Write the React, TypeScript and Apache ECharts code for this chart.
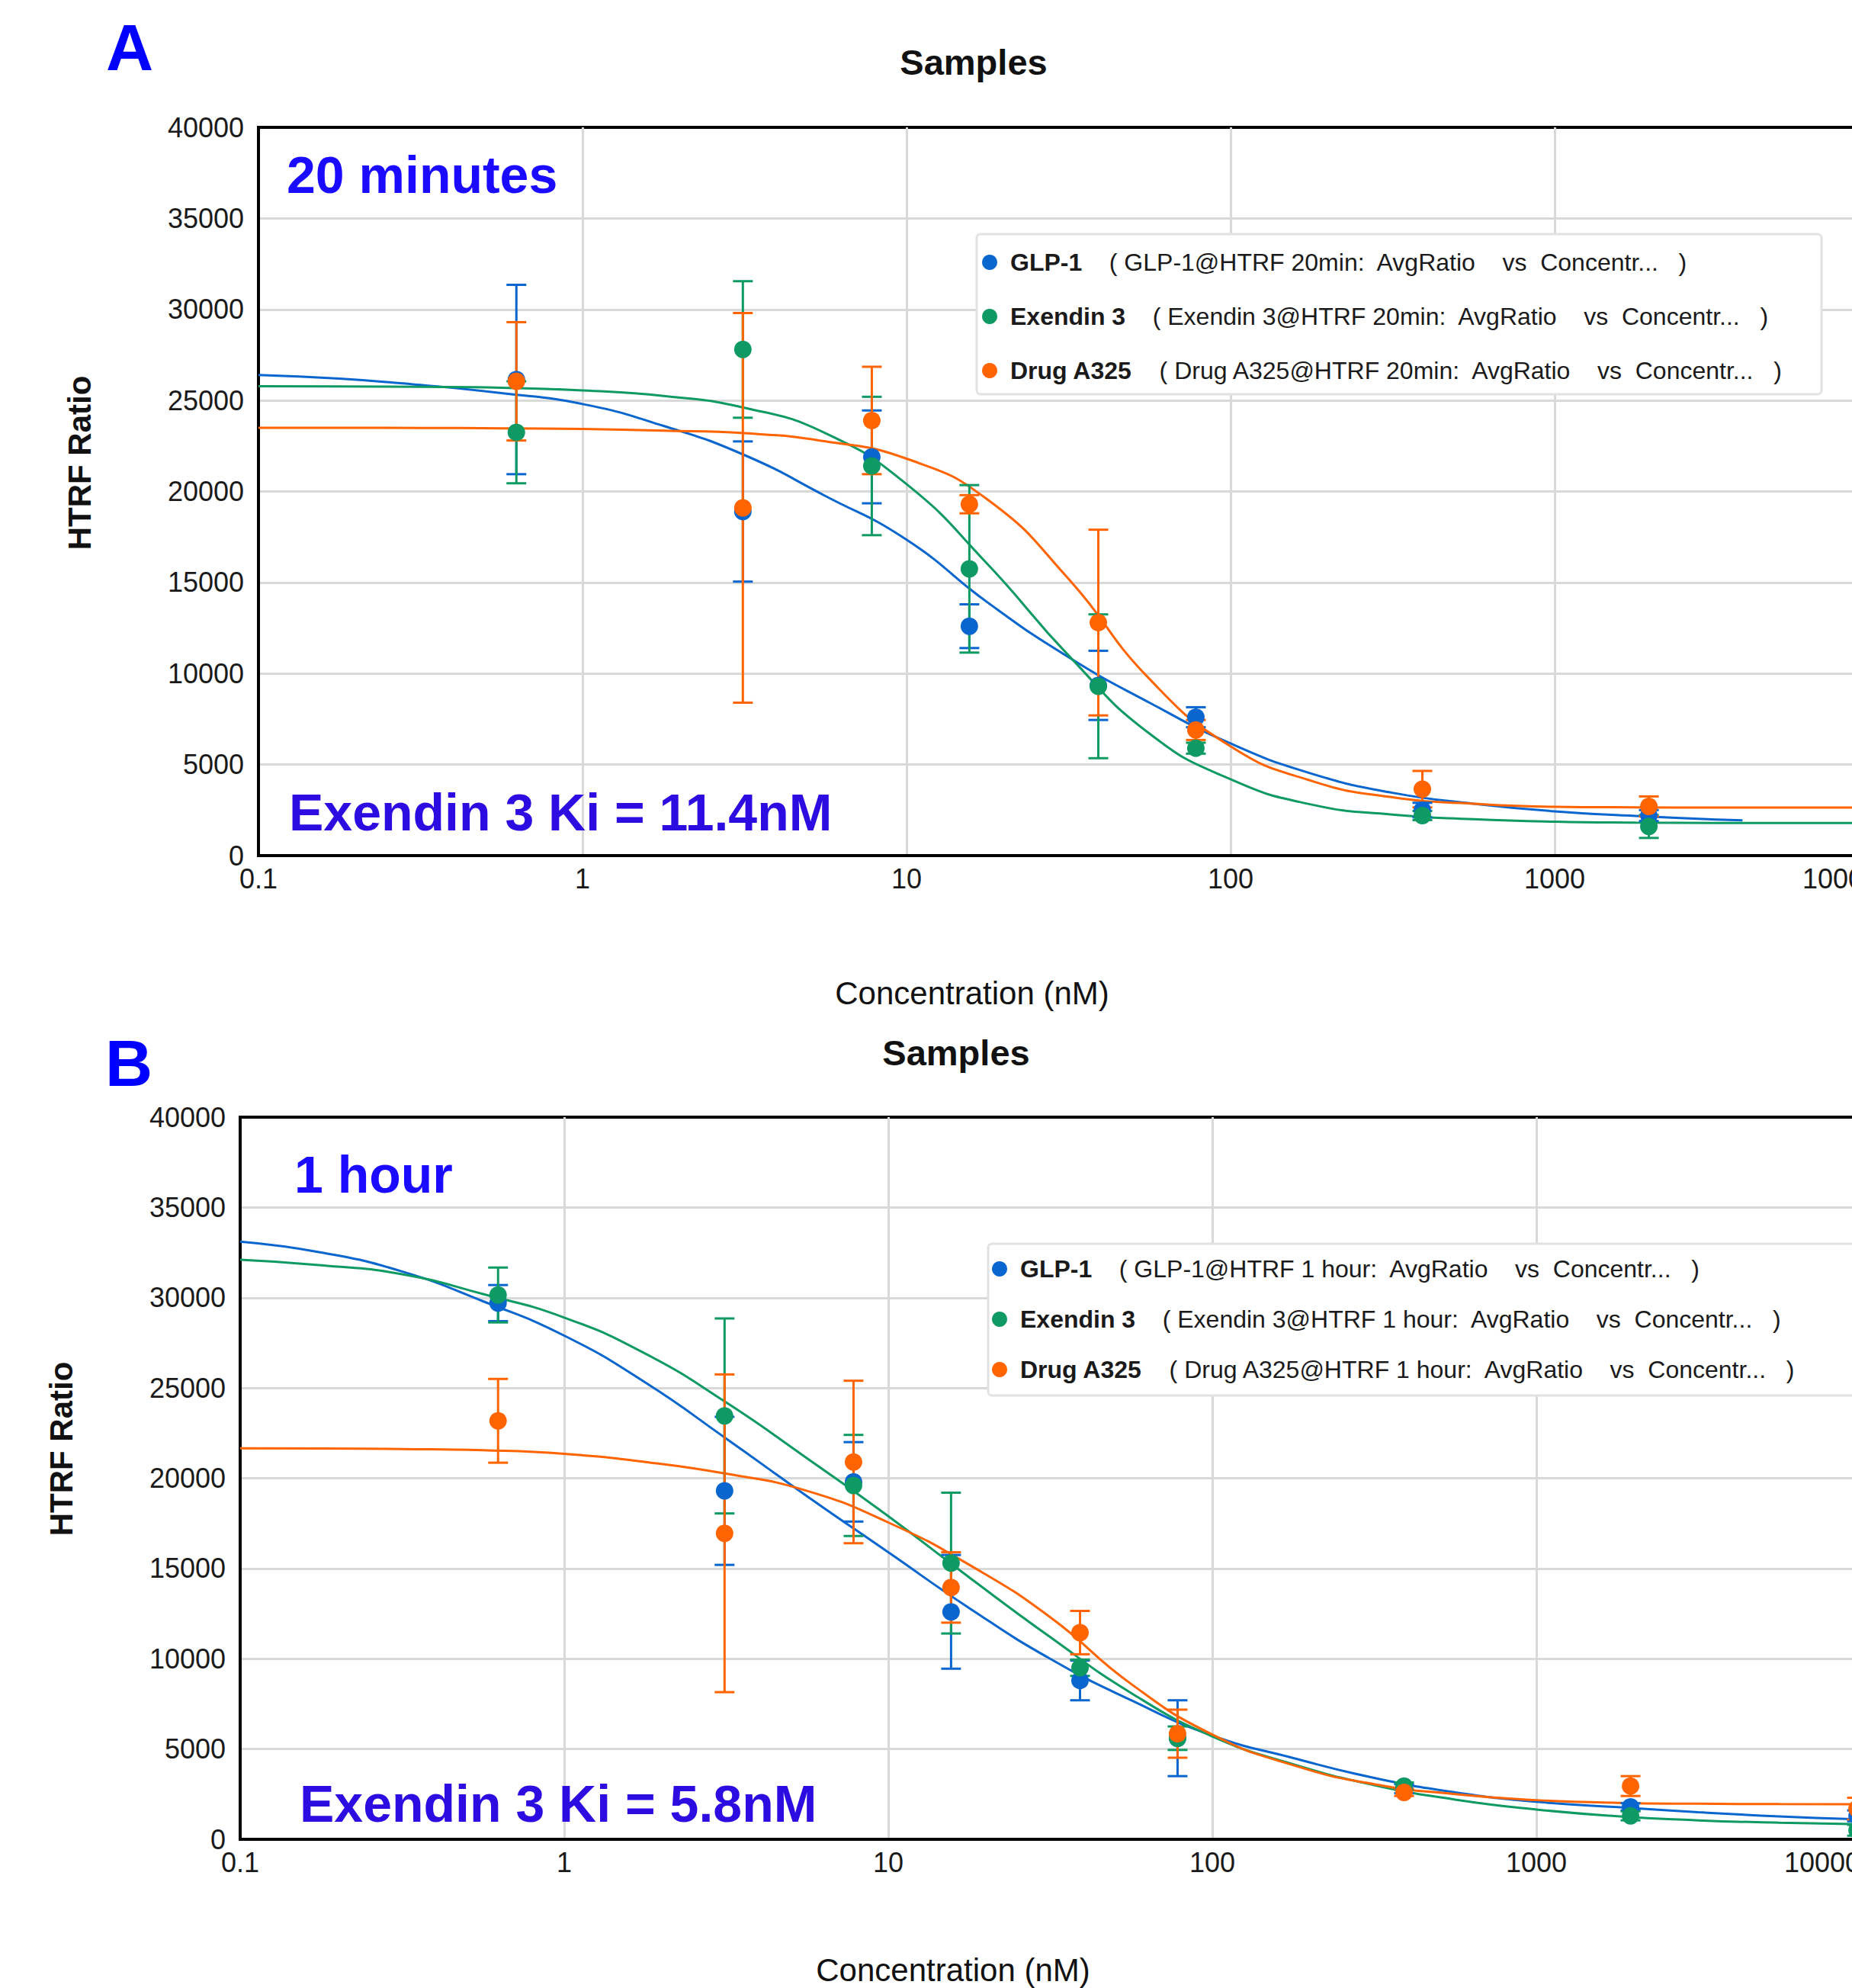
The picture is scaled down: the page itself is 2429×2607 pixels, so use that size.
import React, { useEffect, useRef } from 'react';
import * as echarts from 'echarts';

const FONT = '"Liberation Sans", Arial, Helvetica, sans-serif';
const NAMES = ['GLP-1', 'Exendin 3', 'Drug A325'];
const COLORS = ['#0a66cf', '#0f9a64', '#ff6400'];

// ---------- Panel A (20 minutes) measured points ----------
const CONC_A = [0.625, 3.125, 7.8125, 15.625, 39.0625, 78.125, 390.625, 1953.125];
const GLP1_A = [26150, 18900, 21900, 12600, 9350, 7600, 2500, 2200];
const GLP1_A_ERR = [5200, 3850, 2550, 1200, 1900, 550, 400, 300];
const EX3_A = [23250, 27800, 21400, 15750, 9300, 5900, 2200, 1600];
const EX3_A_ERR = [2800, 3750, 3800, 4600, 3950, 300, 250, 630];
const DRUG_A = [26050, 19100, 23900, 19300, 12800, 6900, 3650, 2700];
const DRUG_A_ERR = [3250, 10700, 2950, 500, 5100, 550, 1000, 550];

// ---------- Panel B (1 hour) measured points ----------
const CONC_B = [0.625, 3.125, 7.8125, 15.625, 39.0625, 78.125, 390.625, 1953.125, 9765.625];
const GLP1_B = [29700, 19300, 19800, 12600, 8800, 5600, 2800, 1800, 1300];
const GLP1_B_ERR = [1000, 4100, 2200, 3150, 1100, 2100, 250, 200, 300];
const EX3_B = [30150, 23450, 19600, 15300, 9500, 5600, 2950, 1300, 500];
const EX3_B_ERR = [1520, 5400, 2800, 3900, 450, 650, 200, 250, 300];
const DRUG_B = [23180, 16950, 20900, 13950, 11450, 5850, 2600, 2950, 1700];
const DRUG_B_ERR = [2320, 8800, 4500, 1950, 1200, 1330, 200, 550, 600];

// ---------- fitted curves at quarter-decade steps ----------
const FIT_X = [0.1, 0.178, 0.316, 0.562, 1, 1.78, 3.16, 5.62, 10, 17.8, 31.6, 56.2, 100, 178, 316, 562, 1000, 1778, 3162, 5623, 10000];
const FIT_X_GLP1_A = [0.1, 0.178, 0.316, 0.562, 1, 1.78, 3.16, 5.62, 10, 17.8, 31.6, 56.2, 100, 178, 316, 562, 1000, 1778, 3162, 3800];
const GLP1_A_FIT = [26400, 26200, 25850, 25400, 24800, 23600, 22000, 19750, 17350, 13900, 10900, 8400, 6160, 4500, 3450, 2850, 2430, 2180, 1980, 1940];
const EX3_A_FIT = [25780, 25770, 25750, 25700, 25550, 25250, 24600, 23200, 20400, 16000, 11000, 6700, 4190, 2800, 2250, 2000, 1860, 1810, 1795, 1790, 1790];
const DRUG_A_FIT = [23500, 23500, 23490, 23470, 23430, 23340, 23200, 22750, 21800, 19550, 15200, 9700, 6000, 4100, 3200, 2850, 2680, 2650, 2640, 2640, 2640];
const GLP1_B_FIT = [33100, 32500, 31450, 29800, 27900, 25300, 22200, 19000, 15900, 12800, 10000, 7700, 5750, 4500, 3400, 2600, 2080, 1780, 1500, 1270, 1100];
const EX3_B_FIT = [32100, 31800, 31300, 30200, 28900, 26900, 24200, 21100, 17900, 14500, 11200, 8100, 5700, 4150, 3000, 2200, 1650, 1280, 1050, 920, 840];
const DRUG_B_FIT = [21660, 21650, 21620, 21550, 21350, 20900, 20250, 19300, 17550, 15200, 12300, 8600, 5800, 4100, 3050, 2500, 2170, 2020, 1970, 1950, 1940];

const Y_MAX = 40000;
const Y_STEP = 5000;

const pairs = (xs: number[], ys: number[]) => xs.map((x, i) => [x, ys[i]]);
const triples = (xs: number[], ys: number[], es: number[]) => xs.map((x, i) => [x, ys[i], es[i]]);

const errRender = (color: string) => (params: any, api: any) => {
  const x = api.value(0);
  const y = api.value(1);
  const e = api.value(2);
  const p1 = api.coord([x, y + e]);
  const p2 = api.coord([x, y - e]);
  const hw = 13;
  const st = { stroke: color, lineWidth: 3 };
  return {
    type: 'group',
    children: [
      { type: 'line', shape: { x1: p1[0], y1: p1[1], x2: p2[0], y2: p2[1] }, style: st },
      { type: 'line', shape: { x1: p1[0] - hw, y1: p1[1], x2: p1[0] + hw, y2: p1[1] }, style: st },
      { type: 'line', shape: { x1: p2[0] - hw, y1: p2[1], x2: p2[0] + hw, y2: p2[1] }, style: st },
    ],
  };
};

function panelSeries(
  gi: number,
  conc: number[],
  means: number[][],
  errs: number[][],
  fitXs: number[][],
  fits: number[][]
) {
  const out: any[] = [];
  NAMES.forEach((n, k) => {
    out.push({
      name: n + ' fit',
      type: 'line',
      xAxisIndex: gi,
      yAxisIndex: gi,
      data: pairs(fitXs[k], fits[k]),
      symbol: 'none',
      smooth: 0.5,
      lineStyle: { color: COLORS[k], width: 3 },
      z: 2,
      silent: true,
    });
  });
  NAMES.forEach((n, k) => {
    out.push({
      name: n + ' err',
      type: 'custom',
      xAxisIndex: gi,
      yAxisIndex: gi,
      data: triples(conc, means[k], errs[k]),
      encode: { x: 0, y: [1] },
      renderItem: errRender(COLORS[k]),
      clip: false,
      z: 3,
      silent: true,
    });
  });
  NAMES.forEach((n, k) => {
    out.push({
      name: n,
      type: 'scatter',
      xAxisIndex: gi,
      yAxisIndex: gi,
      data: pairs(conc, means[k]),
      symbol: 'circle',
      symbolSize: 23,
      itemStyle: { color: COLORS[k], opacity: 1 },
      z: 4,
      silent: true,
    });
  });
  return out;
}

const plainNum = (v: number) => String(Math.round(v * 1000) / 1000);

const xAxisFor = (gi: number) => ({
  type: 'log',
  logBase: 10,
  min: 0.1,
  max: 10000,
  gridIndex: gi,
  axisLine: { show: true, onZero: false, lineStyle: { color: '#000', width: 4 } },
  axisTick: { show: false },
  axisLabel: { fontSize: 36, color: '#1a1a1a', fontFamily: FONT, margin: 12, formatter: plainNum, alignMaxLabel: 'right' },
  splitLine: { show: true, showMinLine: false, showMaxLine: false, lineStyle: { color: '#d9d9d9', width: 3 } },
});

const yAxisFor = (gi: number) => ({
  type: 'value',
  min: 0,
  max: Y_MAX,
  interval: Y_STEP,
  gridIndex: gi,
  axisLine: { show: true, lineStyle: { color: '#000', width: 4 } },
  axisTick: { show: false },
  axisLabel: { fontSize: 36, color: '#1a1a1a', fontFamily: FONT, margin: 19, formatter: plainNum, padding: [12, 0, 0, 0] },
  splitLine: { show: true, showMinLine: false, showMaxLine: false, lineStyle: { color: '#d9d9d9', width: 3 } },
});

const legendFor = (left: number, top: number, gap: number, tag: string) => ({
  data: NAMES,
  orient: 'vertical',
  left,
  top,
  padding: 0,
  itemWidth: 44,
  itemHeight: 20,
  itemGap: gap,
  icon: 'circle',
  selectedMode: false,
  z: 6,
  formatter: (name: string) => `{b|${name}}{r|    ( ${name}@HTRF ${tag}:  AvgRatio    vs  Concentr...   )}`,
  textStyle: {
    rich: {
      b: { fontWeight: 'bold', fontSize: 32, fontFamily: FONT, color: '#1a1a1a', lineHeight: 36 },
      r: { fontSize: 32, fontFamily: FONT, color: '#1a1a1a', lineHeight: 36 },
    },
  },
});

const txt = (text: string, x: number, y: number, size: number, color: string, bold: boolean, align = 'center', rotation = 0) => ({
  type: 'text',
  x,
  y,
  rotation,
  z: 5,
  silent: true,
  style: {
    text,
    fontSize: size,
    fontWeight: bold ? 'bold' : 'normal',
    fontFamily: FONT,
    fill: color,
    align,
    verticalAlign: 'middle',
    textAlign: align,
    textVerticalAlign: 'middle',
  },
});

const option: any = {
  animation: false,
  backgroundColor: '#ffffff',
  grid: [
    { left: 339, top: 167, width: 2125, height: 955, show: true, borderColor: '#000', borderWidth: 4, backgroundColor: 'transparent', outerBoundsMode: 'none', containLabel: false },
    { left: 315, top: 1465, width: 2125, height: 947, show: true, borderColor: '#000', borderWidth: 4, backgroundColor: 'transparent', outerBoundsMode: 'none', containLabel: false },
  ],
  xAxis: [xAxisFor(0), xAxisFor(1)],
  yAxis: [yAxisFor(0), yAxisFor(1)],
  legend: [legendFor(1288, 328, 39, '20min'), legendFor(1301, 1648, 34, '1 hour')],
  graphic: [
    { type: 'rect', z: 3, silent: true, shape: { x: 1281, y: 307, width: 1108, height: 210, r: 5 }, style: { fill: '#fff', stroke: '#e2e2e2', lineWidth: 3 } },
    { type: 'rect', z: 3, silent: true, shape: { x: 1296, y: 1631, width: 1200, height: 199, r: 5 }, style: { fill: '#fff', stroke: '#e2e2e2', lineWidth: 3 } },
    txt('A', 170, 62, 86, '#0000ff', true),
    txt('B', 169, 1394, 86, '#0000ff', true),
    txt('Samples', 1277, 81, 47, '#111', true),
    txt('Samples', 1254, 1380, 47, '#111', true),
    txt('20 minutes', 376, 229, 68, '#1a0aff', true, 'left'),
    txt('1 hour', 386, 1540, 68, '#1a0aff', true, 'left'),
    txt('Exendin 3 Ki = 11.4nM', 379, 1065, 68, '#2c0ce0', true, 'left'),
    txt('Exendin 3 Ki = 5.8nM', 393, 2365, 68, '#2c0ce0', true, 'left'),
    txt('Concentration (nM)', 1275, 1302, 42, '#111', false),
    txt('Concentration (nM)', 1250, 2583, 42, '#111', false),
    txt('HTRF Ratio', 104, 607, 42, '#111', true, 'center', Math.PI / 2),
    txt('HTRF Ratio', 80, 1900, 42, '#111', true, 'center', Math.PI / 2),
  ],
  series: [
    ...panelSeries(
      0,
      CONC_A,
      [GLP1_A, EX3_A, DRUG_A],
      [GLP1_A_ERR, EX3_A_ERR, DRUG_A_ERR],
      [FIT_X_GLP1_A, FIT_X, FIT_X],
      [GLP1_A_FIT, EX3_A_FIT, DRUG_A_FIT]
    ),
    ...panelSeries(
      1,
      CONC_B,
      [GLP1_B, EX3_B, DRUG_B],
      [GLP1_B_ERR, EX3_B_ERR, DRUG_B_ERR],
      [FIT_X, FIT_X, FIT_X],
      [GLP1_B_FIT, EX3_B_FIT, DRUG_B_FIT]
    ),
  ],
};

export default function App() {
  const ref = useRef<HTMLDivElement>(null);
  useEffect(() => {
    if (!ref.current) return;
    const chart = echarts.init(ref.current, null, { renderer: 'svg' });
    chart.setOption(option);
    return () => {
      chart.dispose();
    };
  }, []);
  return (
    <div
      style={{
        position: 'absolute',
        left: 0,
        top: 0,
        width: 2429,
        height: 2607,
        overflow: 'hidden',
        background: '#ffffff',
      }}
    >
      <div ref={ref} style={{ width: 2480, height: 2607 }} />
    </div>
  );
}
